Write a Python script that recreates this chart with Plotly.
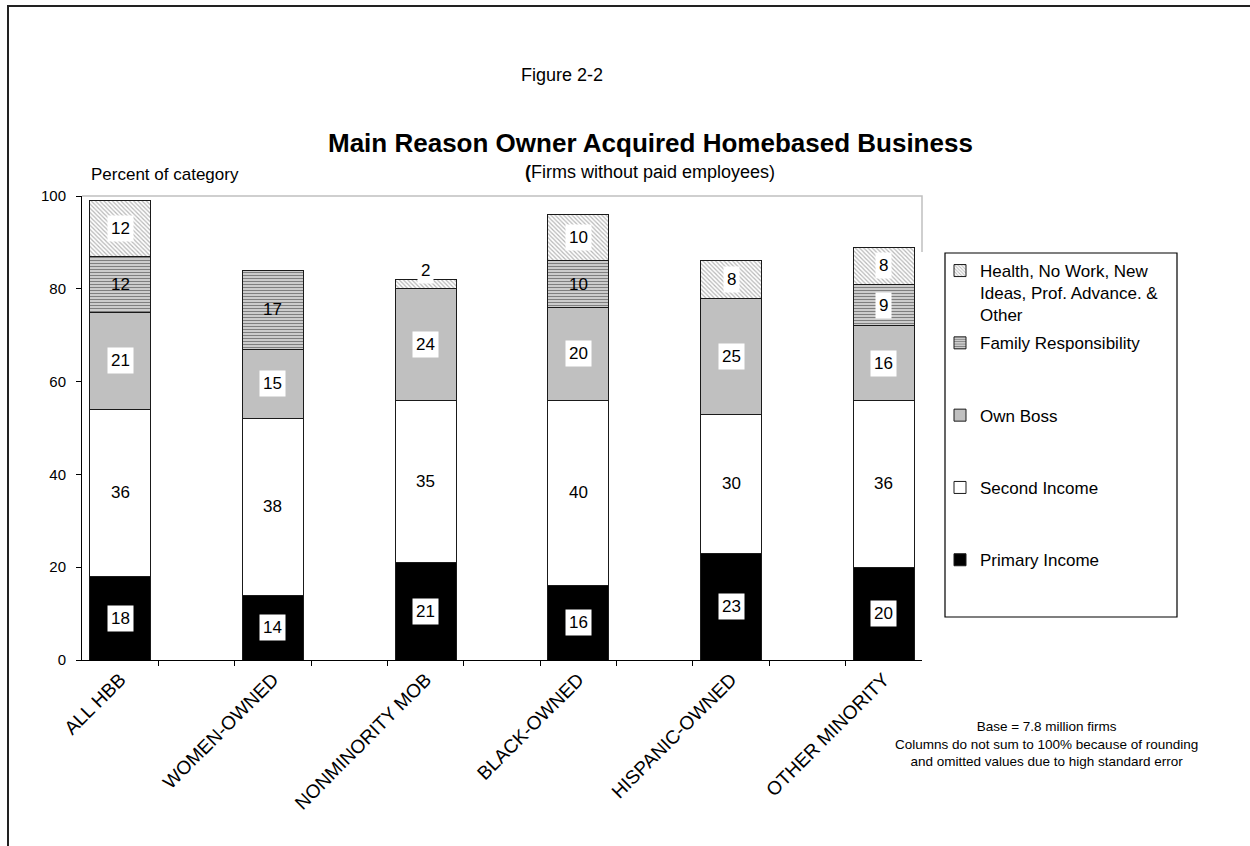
import plotly.graph_objects as go

# Figure 2-2 data: percent of category, firms without paid employees
categories = ["ALL HBB", "WOMEN-OWNED", "NONMINORITY MOB", "BLACK-OWNED",
              "HISPANIC-OWNED", "OTHER MINORITY"]
primary_income = [18, 14, 21, 16, 23, 20]
second_income = [36, 38, 35, 40, 30, 36]
own_boss = [21, 15, 24, 20, 25, 16]
family_resp = [12, 17, None, 10, None, 9]
health_other = [12, None, 2, 10, 8, 8]

series_names = ["Primary Income", "Second Income", "Own Boss",
                "Family Responsibility",
                "Health, No Work, New<br>Ideas, Prof. Advance. &<br>Other"]
series_values = [primary_income, second_income, own_boss, family_resp, health_other]

FONT = "Arial, Liberation Sans, sans-serif"

# every category sits on an even slot, leaving an empty slot between columns
slots = [2 * i for i in range(len(categories))]

styles = [
    dict(color="#000000"),
    dict(color="#ffffff"),
    dict(color="#c0c0c0"),
    dict(color="#ffffff", pattern=dict(shape="-", fgcolor="#000000", bgcolor="#ffffff",
                                       size=3, solidity=0.6)),
    dict(color="#ffffff", pattern=dict(shape="\\", fgcolor="#707070", bgcolor="#ffffff",
                                       size=3, solidity=0.4)),
]
label_box = [True, True, True, False, True]

fig = go.Figure()
n_series = len(series_names)
for k, (name, vals, st) in enumerate(zip(series_names, series_values, styles)):
    lines = name.count("<br>")
    pad = "<br>\u00a0" * (2 - lines)
    fig.add_trace(go.Bar(
        x=slots, y=vals, name=name + pad, width=0.8,
        legendgroup=f"g{k}", legendrank=n_series - k,
        marker=dict(line=dict(color="#1a1a1a", width=1), **st),
        hoverinfo="skip",
    ))

# value labels centred in each segment
annotations = []
base = [0.0] * len(categories)
for vals, boxed in zip(series_values, label_box):
    for i, v in enumerate(vals):
        if v is None:
            continue
        mid = base[i] + v / 2
        annotations.append(dict(
            x=slots[i], y=mid, xref="x", yref="y", text=str(v), showarrow=False,
            font=dict(family=FONT, size=17, color="#000000"),
            bgcolor="#ffffff" if (boxed or v < 10) else "rgba(0,0,0,0)", borderpad=3,
            yshift=14 if v < 4 else 0,
        ))
        base[i] += v

L, R, T, B = 82, 922, 196, 660
W, H = 1250, 846


def px(x):
    return (x - L) / (R - L)


def py(y):
    return (B - y) / (B - T)


annotations += [
    dict(x=px(562), y=py(75), xref="paper", yref="paper", text="Figure 2-2", showarrow=False,
         font=dict(family=FONT, size=18, color="#000"), xanchor="center", yanchor="middle"),
    dict(x=px(650), y=py(143), xref="paper", yref="paper",
         text="<b>Main Reason Owner Acquired Homebased Business</b>", showarrow=False,
         font=dict(family=FONT, size=26, color="#000"), xanchor="center", yanchor="middle"),
    dict(x=px(650), y=py(172), xref="paper", yref="paper",
         text="<b>(</b>Firms without paid employees)", showarrow=False,
         font=dict(family=FONT, size=18, color="#000"), xanchor="center", yanchor="middle"),
    dict(x=px(89), y=py(175), xref="paper", yref="paper", text="Percent of category",
         showarrow=False, xanchor="left", yanchor="middle",
         font=dict(family=FONT, size=17, color="#000")),
    dict(x=px(1046), y=py(717), xref="paper", yref="paper", showarrow=False,
         xanchor="center", yanchor="top", align="center",
         text="Base = 7.8 million firms<br>Columns do not sum to 100% because of rounding"
              "<br>and omitted values due to high standard error",
         font=dict(family=FONT, size=13.5, color="#000")),
]

shapes = [
    # outer frame
    dict(type="path", xref="paper", yref="paper",
         path=f"M {px(8)},{py(900)} L {px(8)},{py(6)} L {px(1300)},{py(6)}",
         line=dict(color="#222222", width=2)),
    # plot area border (top and upper right)
    dict(type="path", xref="paper", yref="paper",
         path=f"M 0,1 L 1,1 L 1,{py(252)}",
         line=dict(color="#c0c0c0", width=1.5)),
    # legend frame
    dict(type="rect", xref="paper", yref="paper",
         x0=px(945), x1=px(1177), y0=py(617), y1=py(253),
         line=dict(color="#000000", width=1.2)),
]

fig.update_layout(
    barmode="stack",
    width=W, height=H,
    margin=dict(l=L, r=W - R, t=T, b=H - B),
    paper_bgcolor="#ffffff", plot_bgcolor="#ffffff",
    font=dict(family=FONT, size=15, color="#000000"),
    showlegend=True,
    legend=dict(
        traceorder="grouped", valign="top",
        x=px(940), xanchor="left", y=py(253), yanchor="top",
        bgcolor="rgba(0,0,0,0)", borderwidth=0,
        font=dict(family=FONT, size=17, color="#000"),
        tracegroupgap=3,
    ),
    xaxis=dict(
        range=[-0.5, 2 * len(categories) - 1.5],
        tickmode="array", tickvals=slots, ticktext=categories,
        tickangle=-45, ticks="", showline=True, linecolor="#000", linewidth=1,
        showgrid=False, zeroline=False, tickfont=dict(family=FONT, size=19),
    ),
    xaxis2=dict(
        overlaying="x", anchor="y", side="bottom",
        range=[-0.5, 2 * len(categories) - 1.5],
        tickmode="array", tickvals=[s + 0.5 for s in range(2 * len(categories) - 2)],
        ticks="outside", ticklen=5, tickcolor="#000", showticklabels=False,
        showgrid=False, zeroline=False, showline=False,
    ),
    yaxis=dict(
        range=[0, 100], tickmode="array", tickvals=[0, 20, 40, 60, 80, 100],
        ticks="outside", ticklen=5, tickcolor="#000", showline=True, linecolor="#000",
        linewidth=1, showgrid=False, zeroline=False, ticklabelstandoff=7,
        tickfont=dict(family=FONT, size=15),
    ),
    annotations=annotations,
    shapes=shapes,
)

# invisible trace so the boundary tick axis is drawn
fig.add_trace(go.Scatter(x=[None], y=[None], xaxis="x2", showlegend=False, hoverinfo="skip"))

fig.write_html("out.html")
